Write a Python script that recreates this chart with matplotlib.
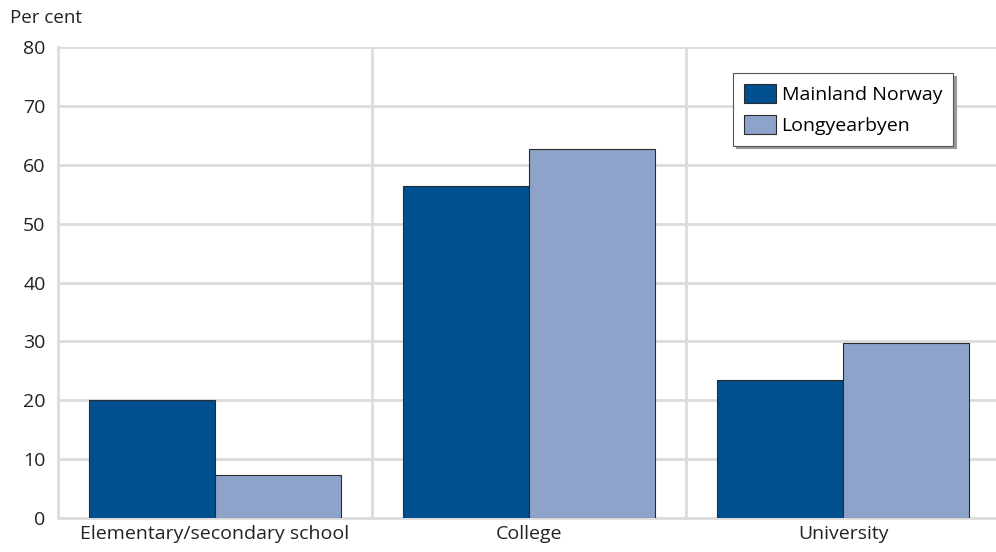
import numpy as np
import matplotlib.pyplot as plt
from matplotlib.patches import Patch

categories = ['Elementary/secondary school', 'College', 'University']
mainland = [20.0, 56.4, 23.4]
longyearbyen = [7.3, 62.6, 29.7]
series_names = ['Mainland Norway', 'Longyearbyen']

dark = '#00508f'
light = '#8ea3c9'
grid_c = '#dcdcdc'

plt.rcParams['font.family'] = ['Open Sans', 'DejaVu Sans']

fig = plt.figure(figsize=(9.96, 5.52), dpi=100)
# axes spans x 58..1000 px, y 47..518 px
ax = fig.add_axes([58 / 996, 1 - 518 / 552, 942 / 996, 471 / 552])

x = np.arange(len(categories))
width = 0.4
ax.bar(x - width / 2, mainland, width, color=dark, edgecolor='#2b2b2b', linewidth=0.8, zorder=3)
ax.bar(x + width / 2, longyearbyen, width, color=light, edgecolor='#2b2b2b', linewidth=0.8, zorder=3)

ax.set_xlim(-0.5, 2.5)
ax.set_ylim(0, 80)
ax.set_yticks(np.arange(0, 81, 10))
ax.set_xticks(x)
ax.set_xticklabels(categories, fontsize=14, color='#222222')
ax.tick_params(axis='y', labelsize=14, colors='#222222', length=0, pad=9)
ax.tick_params(axis='x', length=0, pad=5)

ax.set_xticks([0.5, 1.5], minor=True)
ax.tick_params(axis='x', which='minor', length=0)
ax.grid(axis='y', color=grid_c, linewidth=2, zorder=0)
ax.grid(axis='x', which='minor', color=grid_c, linewidth=2, zorder=0)
ax.grid(axis='x', which='major', visible=False)

for s in ['top', 'right']:
    ax.spines[s].set_visible(False)
ax.spines['left'].set_color(grid_c)
ax.spines['left'].set_linewidth(2)
ax.spines['bottom'].set_color(grid_c)
ax.spines['bottom'].set_linewidth(2)

fig.text(10 / 996, 1 - 18 / 552, 'Per cent', fontsize=13.5, color='#222222', va='center', ha='left')

handles = [Patch(facecolor=dark, edgecolor='#2b2b2b', linewidth=0.8),
           Patch(facecolor=light, edgecolor='#2b2b2b', linewidth=0.8)]
leg = ax.legend(handles, series_names, loc='upper left',
                bbox_to_anchor=(733 / 996, 1 - 73 / 552), bbox_transform=fig.transFigure,
                fontsize=14, frameon=True, fancybox=False, shadow={'color': '#999999', 'alpha': 1},
                handlelength=1.65, handleheight=1.15, handletextpad=0.3, labelspacing=0.55,
                borderpad=0.55, borderaxespad=0)
leg.get_frame().set_edgecolor('#555555')
leg.get_frame().set_linewidth(0.8)
leg.set_zorder(5)

plt.savefig('out.png', dpi=100)
